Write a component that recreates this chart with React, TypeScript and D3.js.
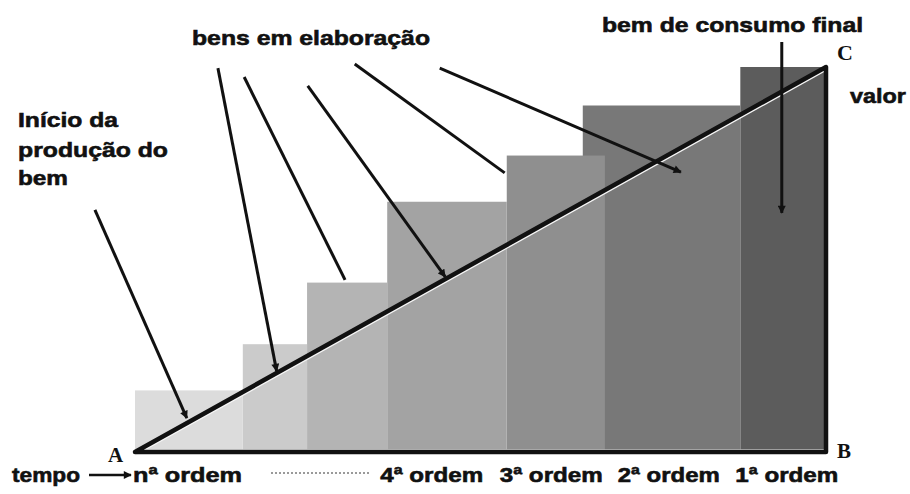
import React, { useEffect } from "react";
import * as d3 from "d3";

// time axis runs 0..100 from A to B, value axis 0..100 from B up to C
const barStart = [0, 15.6, 24.9, 36.5, 53.8, 64.8, 87.6];
const barEnd = [15.6, 24.9, 36.5, 53.8, 68.0, 87.6, 100];
const barValue = [16, 28, 44, 65, 77, 90, 100];
const barGrey = ["#dcdcdc", "#cbcbcb", "#b4b4b4", "#a3a3a3", "#8f8f8f", "#787878", "#5c5c5c"];

const orderLabels = ["nª ordem", "4ª ordem", "3ª ordem", "2ª ordem", "1ª ordem"];
const orderBar = [0, 3, 4, 5, 6];

// pointer lines, in (time, value)
const pointerFrom = [[-5.8, 62.9], [12.0, 99.7], [15.8, 97.4], [25.0, 95.1], [31.8, 100.8], [44.1, 99.7], [93.6, 106.5]];
const pointerTo = [[7.5, 8.8], [20.5, 21.0], [30.4, 44.7], [44.9, 45.5], [53.5, 72.5], [79.0, 72.7], [93.6, 62.1]];
const pointerHead = [true, true, false, true, false, true, true];

const W = 910;
const H = 494;
const sans = "'Liberation Sans', Arial, sans-serif";
const serif = "'Liberation Serif', 'DejaVu Serif', serif";

const App = () => {
    useEffect(() => {
        document.body.style.margin = "0";
    }, []);

    const x = d3.scaleLinear().domain([0, 100]).range([135, 826]);
    const y = d3.scaleLinear().domain([0, 100]).range([452, 67]);
    const line = d3.line<number[]>().x(d => x(d[0])).y(d => y(d[1]));

    // label x tweaks (layout only)
    const labelDx = [-2, -7, -7, 35, -5];
    const labelLen = [109, 103, 103, 102, 103];

    const bars = barValue.map((v, i) => ({ i, v, x0: barStart[i], x1: barEnd[i] })).reverse();

    const bold = { fontFamily: sans, fontWeight: 700, fontSize: 21, fill: "#111", stroke: "#111", strokeWidth: 0.6 } as any;

    return (
        <svg width={W} height={H} style={{ display: "block", background: "#fff" }}>
            <defs>
                <marker id="head" viewBox="0 0 10 10" refX="9" refY="5"
                    markerWidth="9" markerHeight="8" markerUnits="userSpaceOnUse" orient="auto">
                    <path d="M0,0 L10,5 L0,10 z" fill="#111" />
                </marker>
            </defs>

            {bars.map(b => (
                <rect key={b.i}
                    x={x(b.x0)} y={y(b.v)}
                    width={x(b.x1) - x(b.x0)} height={y(0) - y(b.v)}
                    fill={barGrey[b.i]} />
            ))}
            <line x1={x(0)} x2={x(100)} y1={y(0) - 2} y2={y(0) - 2} stroke="#f4f4f4" strokeWidth={1.5} />

            {/* white halo under the diagonal */}
            <path d={line([[0, 0], [100, 100]])!} transform="translate(0,2.8)" stroke="#f6f6f6" strokeWidth={2.2} fill="none" />
            <path d={line([[0, 0], [100, 100], [100, 0]])! + "Z"} stroke="#111" strokeWidth={4.5}
                fill="none" strokeLinejoin="round" />

            {pointerFrom.map((f, i) => (
                <path key={i} d={line([f, pointerTo[i]])!} stroke="#111" strokeWidth={3}
                    fill="none" markerEnd={pointerHead[i] ? "url(#head)" : undefined} />
            ))}

            <text x={192} y={45} textLength={238} lengthAdjust="spacingAndGlyphs" style={bold}>bens em elaboração</text>
            <text x={602} y={32} textLength={261} lengthAdjust="spacingAndGlyphs" style={bold}>bem de consumo final</text>
            <text x={18} y={127} textLength={100} lengthAdjust="spacingAndGlyphs" style={bold}>Início da</text>
            <text x={18} y={157} textLength={150} lengthAdjust="spacingAndGlyphs" style={bold}>produção do</text>
            <text x={18} y={185} textLength={50} lengthAdjust="spacingAndGlyphs" style={bold}>bem</text>
            <text x={850} y={103} textLength={56} lengthAdjust="spacingAndGlyphs" style={bold}>valor</text>

            <text x={108} y={462} style={{ fontFamily: serif, fontWeight: 700, fontSize: 21, fill: "#111" }}>A</text>
            <text x={837} y={458} style={{ fontFamily: serif, fontWeight: 700, fontSize: 21, fill: "#111" }}>B</text>
            <text x={837} y={60} style={{ fontFamily: serif, fontWeight: 700, fontSize: 22, fill: "#111" }}>C</text>

            <text x={12} y={482} textLength={68} lengthAdjust="spacingAndGlyphs" style={bold}>tempo</text>
            <line x1={89} x2={131} y1={475} y2={475} stroke="#111" strokeWidth={2.5} markerEnd="url(#head)" />
            <line x1={271} x2={370} y1={473} y2={473} stroke="#9a9a9a" strokeWidth={2} strokeDasharray="2,2" />

            {orderLabels.map((t, k) => (
                <text key={t} x={x(barStart[orderBar[k]]) + labelDx[k]} y={482}
                    textLength={labelLen[k]} lengthAdjust="spacingAndGlyphs" style={bold}>{t}</text>
            ))}
        </svg>
    );
};

export default App;
